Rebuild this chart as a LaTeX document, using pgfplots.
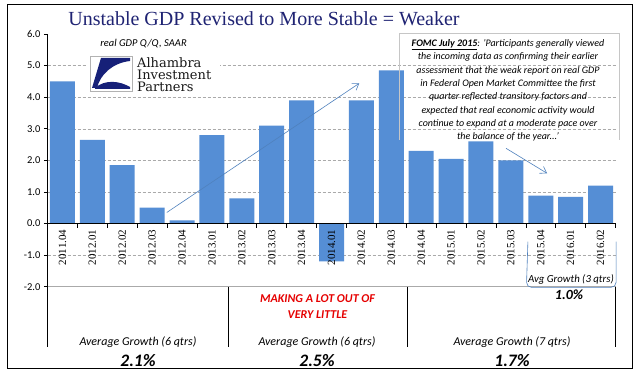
\documentclass[border=0pt]{standalone}
\usepackage{pgfplots}
\pgfplotsset{compat=1.18}
\usepackage{fontspec}
\setmainfont{Carlito}[Extension=.ttf, UprightFont=*-Regular, ItalicFont=*-Italic, BoldFont=*-Bold, BoldItalicFont=*-BoldItalic]
\newfontfamily\titlefont{Liberation Serif}
\newfontfamily\logofont{DejaVu Serif}
\usetikzlibrary{arrows.meta}

\definecolor{barblue}{RGB}{85,142,213}
\definecolor{titlenavy}{RGB}{31,35,115}
\definecolor{arrowblue}{RGB}{79,129,189}
\definecolor{gridgray}{RGB}{170,170,170}
\definecolor{logonavy}{RGB}{22,32,120}
\definecolor{mkred}{RGB}{230,0,0}

\begin{document}
\begin{tikzpicture}[x=1pt,y=1pt]
\path[use as bounding box] (0,0) rectangle (641,375);
\fill[white] (0,0) rectangle (641,375);
\begin{axis}[
  at={(47.5pt,88.3pt)}, anchor=south west,
  scale only axis, width=568pt, height=252.7pt,
  xmin=-0.5, xmax=18.5, ymin=-2, ymax=6,
  axis on top,
  axis x line=middle, axis y line=left,
  x axis line style={-, black, line width=0.6pt},
  y axis line style={-, black, line width=0.6pt},
  xtick={0,...,18},
  xticklabels={2011.04,2012.01,2012.02,2012.03,2012.04,2013.01,2013.02,2013.03,2013.04,2014.01,2014.02,2014.03,2014.04,2015.01,2015.02,2015.03,2015.04,2016.01,2016.02},
  xticklabel style={rotate=90, anchor=east, font=\titlefont\fontsize{11}{12}\selectfont, inner sep=2.5pt},
  major x tick style={draw=none},
  minor xtick={-0.5,0.5,...,18.5},
  minor x tick style={black, line width=0.6pt},
  minor tick length=4pt,
  xtick align=outside,
  ytick={-2,...,6},
  ytick align=outside, major tick length=3.5pt,
  y tick style={black, line width=0.6pt},
  /pgf/number format/assume math mode=true,
  yticklabel style={/pgf/number format/fixed, /pgf/number format/fixed zerofill, /pgf/number format/precision=1, font=\fontsize{10.5}{12}\selectfont},
  clip=false,
]
\foreach \k in {-1,1,2,3,4,5} {
  \edef\temp{\noexpand\draw[gridgray, dash pattern=on 3pt off 2pt, line width=0.5pt] (axis cs:-0.5,\k) -- (axis cs:18.5,\k);}
  \temp
}
\draw[gridgray, line width=0.7pt] (axis cs:-0.5,-2) -- (axis cs:18.5,-2);
\addplot[ybar, bar width=25pt, fill=barblue, draw=none] coordinates {
(0,4.5) (1,2.65) (2,1.85) (3,0.5) (4,0.1) (5,2.8) (6,0.8) (7,3.1) (8,3.9) (9,-1.2)
(10,3.9) (11,4.85) (12,2.3) (13,2.05) (14,2.6) (15,2.0) (16,0.88) (17,0.84) (18,1.2)
};
\draw[arrowblue, line width=0.6pt, -{Straight Barb[length=6pt,width=8pt]}] (axis cs:3.49,0.35) -- (axis cs:9.93,4.44);
\draw[arrowblue, line width=0.6pt, -{Straight Barb[length=6pt,width=8pt]}] (axis cs:14.84,2.38) -- (axis cs:16.21,1.59);
\draw[arrowblue, line width=0.6pt, rounded corners=5pt] (axis cs:15.57,-0.57) -- (axis cs:15.52,-2.02) -- (axis cs:18.52,-2.02) -- (axis cs:18.52,-0.57);
\end{axis}

% frame
\draw[black, line width=1pt] (7,6) rectangle (632,370);

% title
\node[anchor=base, text=titlenavy, font=\titlefont\fontsize{20}{24}\selectfont] at (264,349) {Unstable GDP Revised to More Stable = Weaker};

% subtitle
\node[font=\itshape\fontsize{10.5}{12}\selectfont] at (143.5,331) {real GDP Q/Q, SAAR};

% logo
\fill[white] (87,281) rectangle (220,321);
\draw[gray!60, line width=0.6pt] (90,284) rectangle (132,319);
\fill[logonavy] (101,317) -- (130,317) -- (130,314) .. controls (112,312) and (100,300) .. (97,287) -- (92,287) -- cycle;
\fill[logonavy] (95,287) .. controls (105,296) and (120,294) .. (130,288) -- (130,286) -- (95,286) -- cycle;
\node[anchor=base west, inner sep=0pt, text=black!90, font=\logofont\fontsize{13}{14}\selectfont] at (137,307) {Alhambra};
\node[anchor=base west, inner sep=0pt, text=black!90, font=\logofont\fontsize{13}{14}\selectfont] at (137,295) {Investment};
\node[anchor=base west, inner sep=0pt, text=black!90, font=\logofont\fontsize{13}{14}\selectfont] at (137,283) {Partners};

% FOMC box
\draw[gray!45, line width=0.6pt] (399,235) -- (399,342) -- (619,342) -- (619,235);
\node[align=center, font=\itshape\fontsize{10}{13.3}\selectfont] at (508,284.5) {%
\underline{\textbf{FOMC July 2015}}: 'Participants generally viewed\\
the incoming data as confirming their earlier\\
assessment that the weak report on real GDP\\
in Federal Open Market Committee the first\\
quarter reflected transitory factors and\\
expected that real economic activity would\\
continue to expand at a moderate pace over\\
the balance of the year...'};

% table lines
\draw[black, line width=0.6pt] (47.5,88.3) -- (47.5,28);
\draw[black, line width=0.6pt] (228,88.3) -- (228,28);
\draw[black, line width=0.6pt] (407,88.3) -- (407,28);
\draw[black, line width=0.6pt] (615.5,88.3) -- (615.5,28);

% bottom texts
\node[align=center, text=mkred, font=\bfseries\itshape\fontsize{12}{15.6}\selectfont] at (317.5,68.5) {MAKING A LOT OUT OF\\VERY LITTLE};
\node[font=\itshape\fontsize{12}{14}\selectfont] at (138,33) {Average Growth (6 qtrs)};
\node[font=\itshape\fontsize{12}{14}\selectfont] at (317,33) {Average Growth (6 qtrs)};
\node[font=\itshape\fontsize{12}{14}\selectfont] at (512,33) {Average Growth (7 qtrs)};
\node[font=\bfseries\itshape\fontsize{17.5}{20}\selectfont] at (138,14) {2.1\%};
\node[font=\bfseries\itshape\fontsize{17.5}{20}\selectfont] at (317,14) {2.5\%};
\node[font=\bfseries\itshape\fontsize{17.5}{20}\selectfont] at (512,14) {1.7\%};
\node[font=\itshape\fontsize{10.8}{12}\selectfont] at (571,96) {Avg Growth (3 qtrs)};
\node[font=\bfseries\itshape\fontsize{14}{16}\selectfont] at (569,80) {1.0\%};
\end{tikzpicture}
\end{document}
